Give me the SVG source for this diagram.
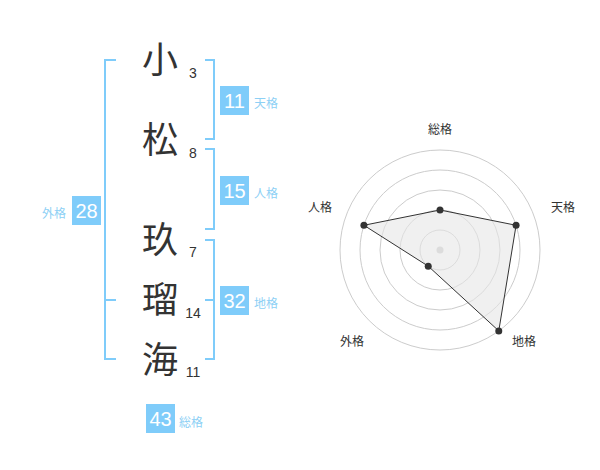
<svg xmlns="http://www.w3.org/2000/svg" width="600" height="470" viewBox="0 0 600 470">
<style>
.ch{font-family:"Noto Sans CJK JP","Noto Sans CJK SC",sans-serif;font-size:36px;fill:#333;text-anchor:middle}
.num{font-family:"Liberation Sans",Arial,sans-serif;font-size:14px;fill:#333;text-anchor:middle}
.br{fill:none;stroke:#7fccfa;stroke-width:2}
.box{fill:#7fccfa}
.bt{font-family:"Liberation Sans",Arial,sans-serif;font-size:20px;fill:#fff;text-anchor:middle}
.lb{font-family:"Noto Sans CJK JP","Noto Sans CJK SC",sans-serif;font-size:12px;fill:#8dd0f5}
.rl{font-family:"Noto Sans CJK JP","Noto Sans CJK SC",sans-serif;font-size:12px;fill:#333;text-anchor:middle}
.ring{fill:none;stroke:#ccc;stroke-width:1}
.pt{fill:#333}
</style>
<rect width="600" height="470" fill="#fff"/>
<g id="connectors">
<path class="br" d="M116,60 H105 V359 H116 M105,300 H116"/>
<path class="br" d="M205,60 H214 V139 H205"/>
<path class="br" d="M205,149 H214 V229 H205"/>
<path class="br" d="M205,240 H214 V359 H205 M214,300 H205"/>
</g>
<g id="char1"><text class="ch" x="160" y="73">小</text><text class="num" x="193" y="78">3</text></g>
<g id="char2"><text class="ch" x="160" y="153">松</text><text class="num" x="193" y="158">8</text></g>
<g id="char3"><text class="ch" x="160" y="253">玖</text><text class="num" x="193" y="257">7</text></g>
<g id="char4"><text class="ch" x="160" y="313">瑠</text><text class="num" x="193" y="318">14</text></g>
<g id="char5"><text class="ch" x="160" y="373">海</text><text class="num" x="193" y="377">11</text></g>
<g id="tenkaku"><rect class="box" x="220" y="86" width="29" height="29"/><text class="bt" x="234.5" y="108">11</text><text class="lb" x="254" y="108">天格</text></g>
<g id="jinkaku"><rect class="box" x="220" y="176" width="29" height="29"/><text class="bt" x="234.5" y="198">15</text><text class="lb" x="254" y="198">人格</text></g>
<g id="chikaku"><rect class="box" x="220" y="286" width="29" height="29"/><text class="bt" x="234.5" y="308">32</text><text class="lb" x="254" y="308">地格</text></g>
<g id="gaikaku"><rect class="box" x="72" y="196" width="29" height="29"/><text class="bt" x="86.5" y="218">28</text><text class="lb" x="66" y="218" text-anchor="end">外格</text></g>
<g id="soukaku"><rect class="box" x="146" y="404" width="29" height="29"/><text class="bt" x="160.5" y="426">43</text><text class="lb" x="179" y="427">総格</text></g>
<g id="radar">
<circle class="ring" cx="440" cy="250" r="20"/>
<circle class="ring" cx="440" cy="250" r="40"/>
<circle class="ring" cx="440" cy="250" r="60"/>
<circle class="ring" cx="440" cy="250" r="80"/>
<circle class="ring" cx="440" cy="250" r="100"/>
<circle cx="440" cy="250" r="3.5" fill="#ccc"/>
<polygon points="440,210 516.08,225.28 498.78,330.9 428.24,266.18 363.92,225.28" fill="#e6e6e6" fill-opacity="0.6" stroke="#333" stroke-width="1"/>
<circle class="pt" cx="440" cy="210" r="3.5"/>
<circle class="pt" cx="516.08" cy="225.28" r="3.5"/>
<circle class="pt" cx="498.78" cy="330.9" r="3.5"/>
<circle class="pt" cx="428.24" cy="266.18" r="3.5"/>
<circle class="pt" cx="363.92" cy="225.28" r="3.5"/>
<text class="rl" x="440" y="134">総格</text>
<text class="rl" x="563" y="212">天格</text>
<text class="rl" x="524" y="346">地格</text>
<text class="rl" x="352" y="346">外格</text>
<text class="rl" x="320" y="212">人格</text>
</g>
</svg>
